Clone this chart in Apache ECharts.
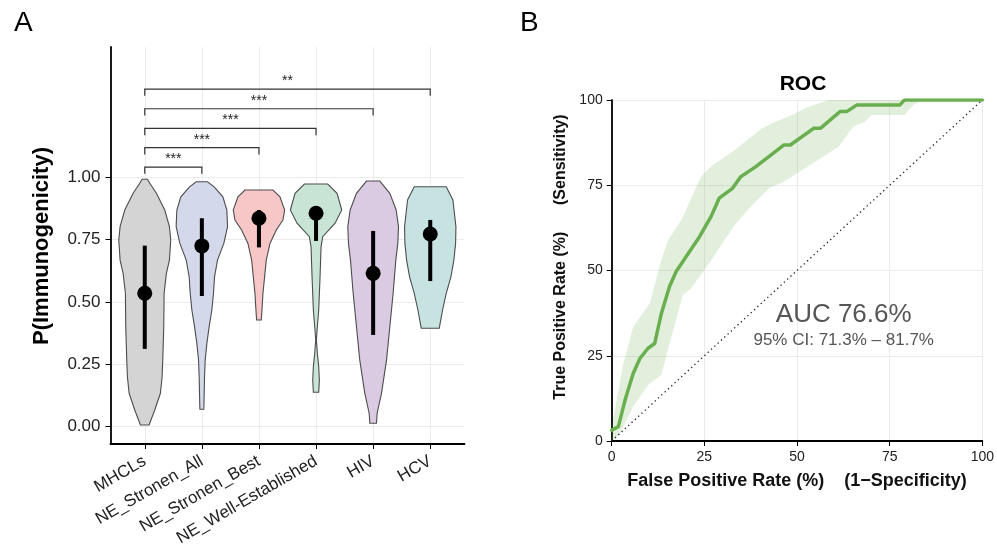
<!DOCTYPE html>
<html>
<head>
<meta charset="utf-8">
<title>Immunogenicity violins and ROC</title>
<script src="https://cdn.jsdelivr.net/npm/echarts@6/dist/echarts.min.js"></script>
<style>
  html, body { margin: 0; padding: 0; background: #fff; }
  #chart { width: 997px; height: 559px; }
</style>
</head>
<body>
<div id="chart"></div>
<script>
// ---- 数据 ----
const categories = ['MHCLs', 'NE_Stronen_All', 'NE_Stronen_Best', 'NE_Well-Established', 'HIV', 'HCV'];

// violin 轮廓: [P值, 半宽(类别单位)]
const mhclsProfile = [[0.007, 0.076], [0.067, 0.175], [0.134, 0.274], [0.200, 0.304], [0.267, 0.315], [0.401, 0.333],
  [0.535, 0.339], [0.615, 0.379], [0.668, 0.432], [0.749, 0.455], [0.802, 0.432], [0.869, 0.350], [0.936, 0.204],
  [0.976, 0.088], [0.992, 0.047]];
const stronenAllProfile = [[0.070, 0.035], [0.134, 0.041], [0.200, 0.047], [0.267, 0.058], [0.334, 0.088], [0.401, 0.128],
  [0.468, 0.175], [0.535, 0.204], [0.601, 0.222], [0.668, 0.274], [0.735, 0.385], [0.802, 0.450], [0.869, 0.438],
  [0.922, 0.368], [0.962, 0.216], [0.982, 0.099]];
const stronenBestProfile = [[0.428, 0.041], [0.468, 0.053], [0.535, 0.070], [0.601, 0.099], [0.668, 0.128], [0.735, 0.193],
  [0.789, 0.304], [0.829, 0.420], [0.869, 0.450], [0.922, 0.368], [0.949, 0.245]];
const wellEstProfile = [[0.138, 0.047], [0.187, 0.058], [0.241, 0.047], [0.294, 0.023], [0.348, 0.006], [0.401, 0.023],
  [0.468, 0.047], [0.601, 0.070], [0.722, 0.088], [0.762, 0.117], [0.816, 0.333], [0.869, 0.450], [0.936, 0.368],
  [0.973, 0.204]];
const hivProfile = [[0.014, 0.058], [0.054, 0.070], [0.134, 0.146], [0.267, 0.234], [0.401, 0.292], [0.535, 0.350],
  [0.668, 0.397], [0.735, 0.432], [0.802, 0.444], [0.869, 0.403], [0.936, 0.292], [0.985, 0.117]];
const hcvProfile = [[0.395, 0.158], [0.468, 0.216], [0.535, 0.280], [0.601, 0.362], [0.668, 0.414], [0.735, 0.444],
  [0.802, 0.450], [0.909, 0.397], [0.962, 0.280]];
const violinProfiles = [mhclsProfile, stronenAllProfile, stronenBestProfile, wellEstProfile, hivProfile, hcvProfile];

const medians = [0.535, 0.725, 0.836, 0.856, 0.615, 0.773];
const rangeLow = [0.312, 0.524, 0.719, 0.745, 0.368, 0.584];
const rangeHigh = [0.726, 0.836, 0.869, 0.876, 0.785, 0.829];

// 显著性标记
const bracketFrom = [0, 0, 0, 0, 0];
const bracketTo = [1, 2, 3, 4, 5];
const bracketY = [1.041, 1.119, 1.196, 1.275, 1.354];
const bracketLabels = ['***', '***', '***', '***', '**'];
const bracketDrop = 0.027;

const pTicks = [0, 0.25, 0.5, 0.75, 1];

// ROC 曲线 (%)
const rocFpr = [0, 1.8, 3.6, 5.8, 7.6, 9.8, 11.6, 13.4, 15.6, 17.4, 20.1, 23.7, 26.8, 29, 32.6, 34.8, 38.8, 42.4,
  46.4, 48.2, 54.5, 56.3, 61.6, 63.4, 66.1, 77.7, 79, 100];
const rocTpr = [3.2, 4.2, 12, 19.8, 24.2, 27.2, 28.6, 37.4, 45.3, 49.7, 54.1, 59.9, 65.8, 71.2, 74.1, 77.5, 80.4, 83.4,
  86.8, 86.8, 91.7, 91.7, 96.6, 96.6, 98.5, 98.5, 100, 100];
const ciUpperFpr = [0, 1, 3, 5.8, 10.3, 13.4, 15.2, 18.8, 24.1, 27.2, 32.6, 40.6, 43.3, 48.7, 52.2, 58.5, 100];
const ciUpperTpr = [4, 10, 22, 33.5, 40.4, 53.1, 58.9, 64.8, 77.5, 80.9, 84.8, 91.7, 93.2, 95.6, 97.6, 100, 100];
const ciLowerFpr = [0, 2.2, 5.8, 9.8, 13.4, 16.1, 19.2, 21.4, 26.3, 30.4, 33.5, 37.9, 42.4, 46.4, 54.9, 61.2, 65.2,
  68.3, 70.1, 79, 81.3, 83.9, 100];
const ciLowerTpr = [0, 2.2, 10.1, 16.4, 19.4, 30.6, 42.8, 44.8, 52.1, 58.9, 63.8, 69.2, 74.1, 76.0, 81.9, 86.3, 92.2,
  93.6, 95.6, 95.6, 98.5, 100, 100];
const chanceFpr = [0, 100];
const chanceTpr = [0, 100];

const aucText = 'AUC 76.6%';
const ciText = '95% CI: 71.3% – 81.7%';

// ---- 样式 ----
const FONT = '"Liberation Sans", Arial, Helvetica, sans-serif';
const violinFills = ['#d4d4d4', '#d3d8ea', '#f7c6c7', '#c8e4d4', '#dbcbe2', '#c6e3e2'];
const GRID_COLOR = '#ebebeb';
const ROC_GREEN = '#6aaf4f';

const chart = echarts.init(document.getElementById('chart'), null, { renderer: 'canvas' });

function zip(a, b) {
  return a.map((v, i) => [v, b[i]]);
}

function axisBase() {
  return {
    axisLine: { show: true, onZero: false, lineStyle: { color: '#000', width: 1.8 } },
    axisTick: { show: true, length: 5, lineStyle: { color: '#000', width: 1 } },
    axisLabel: { color: '#222', fontSize: 17, fontFamily: FONT, margin: 10 },
    splitLine: { show: true, lineStyle: { color: GRID_COLOR, width: 1 } }
  };
}

const xA = axisBase();
const yA = axisBase();
const xB = axisBase();
const yB = axisBase();

const option = {
  backgroundColor: '#fff',
  animation: false,
  textStyle: { fontFamily: FONT },
  title: [
    { text: 'A', left: 9, top: 4, textStyle: { fontSize: 28, fontWeight: 'normal', color: '#000', fontFamily: FONT } },
    { text: 'B', left: 515, top: 4, textStyle: { fontSize: 28, fontWeight: 'normal', color: '#000', fontFamily: FONT } },
    { text: 'ROC', left: 798, top: 69, textAlign: 'center',
      textStyle: { fontSize: 21, fontWeight: 'bold', color: '#000', fontFamily: FONT } }
  ],
  grid: [
    { left: 110.5, top: 47, width: 354, height: 397 },
    { left: 611.7, top: 100, width: 372.6, height: 341 }
  ],
  xAxis: [
    Object.assign(xA, {
      type: 'value', gridIndex: 0, min: -0.6, max: 5.6,
      axisTick: Object.assign(xA.axisTick, { customValues: [0, 1, 2, 3, 4, 5] }),
      axisLabel: Object.assign(xA.axisLabel, {
        customValues: [0, 1, 2, 3, 4, 5], rotate: 30, margin: 16,
        formatter: v => categories[Math.round(v)]
      })
    }),
    Object.assign(xB, {
      type: 'value', gridIndex: 1, min: 0, max: 100, interval: 25,
      axisLabel: Object.assign(xB.axisLabel, { fontSize: 14, margin: 9 }),
      name: 'False Positive Rate (%)    (1\u2212Specificity)',
      nameLocation: 'middle', nameGap: 31,
      nameTextStyle: { fontSize: 18, fontWeight: 'bold', color: '#111', fontFamily: FONT }
    })
  ],
  yAxis: [
    Object.assign(yA, {
      type: 'value', gridIndex: 0, min: -0.0694, max: 1.5226,
      axisTick: Object.assign(yA.axisTick, { customValues: pTicks }),
      axisLabel: Object.assign(yA.axisLabel, { customValues: pTicks, formatter: v => v.toFixed(2) })
    }),
    Object.assign(yB, {
      type: 'value', gridIndex: 1, min: 0, max: 100, interval: 25,
      axisLabel: Object.assign(yB.axisLabel, { fontSize: 14, margin: 9 })
    })
  ],
  graphic: [
    { type: 'text', x: 42, y: 246, rotation: Math.PI / 2,
      style: { text: 'P(Immunogenicity)', fill: '#000', font: 'bold 22px ' + FONT,
        align: 'center', verticalAlign: 'middle', textAlign: 'center', textVerticalAlign: 'middle' } },
    { type: 'text', x: 561, y: 257, rotation: Math.PI / 2,
      style: { text: 'True Positive Rate (%)      (Sensitivity)', fill: '#111', font: 'bold 16px ' + FONT,
        align: 'center', verticalAlign: 'middle', textAlign: 'center', textVerticalAlign: 'middle' } }
  ],
  series: [
    // violin
    {
      type: 'custom', xAxisIndex: 0, yAxisIndex: 0, z: 2,
      data: categories.map((c, i) => [i]),
      renderItem: function (params, api) {
        const i = params.dataIndex;
        const prof = violinProfiles[i];
        const left = prof.map(p => api.coord([i - p[1], p[0]]));
        const right = prof.slice().reverse().map(p => api.coord([i + p[1], p[0]]));
        return {
          type: 'polygon',
          shape: { points: left.concat(right) },
          style: { fill: violinFills[i], stroke: '#4d4d4d', lineWidth: 1.1 }
        };
      }
    },
    // 范围线
    {
      type: 'custom', xAxisIndex: 0, yAxisIndex: 0, z: 3,
      data: categories.map((c, i) => [i, rangeLow[i], rangeHigh[i]]),
      renderItem: function (params, api) {
        const i = params.dataIndex;
        const a = api.coord([i, rangeLow[i]]);
        const b = api.coord([i, rangeHigh[i]]);
        return {
          type: 'line',
          shape: { x1: a[0], y1: a[1], x2: b[0], y2: b[1] },
          style: { stroke: '#000', lineWidth: 4 }
        };
      }
    },
    // 中位数
    {
      type: 'scatter', xAxisIndex: 0, yAxisIndex: 0, z: 4,
      symbolSize: 15,
      itemStyle: { color: '#000', opacity: 1 },
      data: medians.map((m, i) => [i, m])
    },
    // 显著性标记
    {
      type: 'custom', xAxisIndex: 0, yAxisIndex: 0, z: 4,
      data: bracketY.map((y, i) => [bracketFrom[i], y]),
      renderItem: function (params, api) {
        const i = params.dataIndex;
        const y = bracketY[i];
        const p0 = api.coord([bracketFrom[i], y - bracketDrop]);
        const p1 = api.coord([bracketFrom[i], y]);
        const p2 = api.coord([bracketTo[i], y]);
        const p3 = api.coord([bracketTo[i], y - bracketDrop]);
        const mid = api.coord([(bracketFrom[i] + bracketTo[i]) / 2, y]);
        return {
          type: 'group',
          children: [
            { type: 'polyline', shape: { points: [p0, p1, p2, p3] },
              style: { stroke: '#333', lineWidth: 1.2, fill: null } },
            { type: 'text', x: mid[0], y: mid[1] - 1,
              style: { text: bracketLabels[i], fill: '#222', font: '14px ' + FONT,
                align: 'center', verticalAlign: 'bottom', textAlign: 'center', textVerticalAlign: 'bottom' } }
          ]
        };
      }
    },
    // ROC 置信区间
    {
      type: 'custom', xAxisIndex: 1, yAxisIndex: 1, z: 1,
      data: [[0, 0]],
      renderItem: function (params, api) {
        const up = zip(ciUpperFpr, ciUpperTpr).map(p => api.coord(p));
        const lo = zip(ciLowerFpr, ciLowerTpr).reverse().map(p => api.coord(p));
        return {
          type: 'polygon',
          shape: { points: up.concat(lo) },
          style: { fill: 'rgba(106,175,79,0.2)', stroke: null }
        };
      }
    },
    // 对角线
    {
      type: 'line', xAxisIndex: 1, yAxisIndex: 1, z: 2,
      data: zip(chanceFpr, chanceTpr),
      showSymbol: false, silent: true,
      lineStyle: { color: '#222', width: 1.3, type: [1.3, 3.2] }
    },
    // ROC 曲线
    {
      type: 'line', xAxisIndex: 1, yAxisIndex: 1, z: 3,
      data: zip(rocFpr, rocTpr),
      showSymbol: false,
      lineStyle: { color: ROC_GREEN, width: 3.5, join: 'round', cap: 'round' }
    },
    // AUC 文本
    {
      type: 'custom', xAxisIndex: 1, yAxisIndex: 1, z: 5,
      data: [[62.6, 37]],
      renderItem: function (params, api) {
        const p = api.coord([api.value(0), api.value(1)]);
        return {
          type: 'group',
          children: [
            { type: 'text', x: p[0], y: p[1],
              style: { text: aucText, fill: '#555', font: '26px ' + FONT,
                align: 'center', verticalAlign: 'middle', textAlign: 'center', textVerticalAlign: 'middle' } },
            { type: 'text', x: p[0], y: p[1] + 25,
              style: { text: ciText, fill: '#555', font: '17px ' + FONT,
                align: 'center', verticalAlign: 'middle', textAlign: 'center', textVerticalAlign: 'middle' } }
          ]
        };
      }
    }
  ]
};

chart.setOption(option);
</script>
</body>
</html>
